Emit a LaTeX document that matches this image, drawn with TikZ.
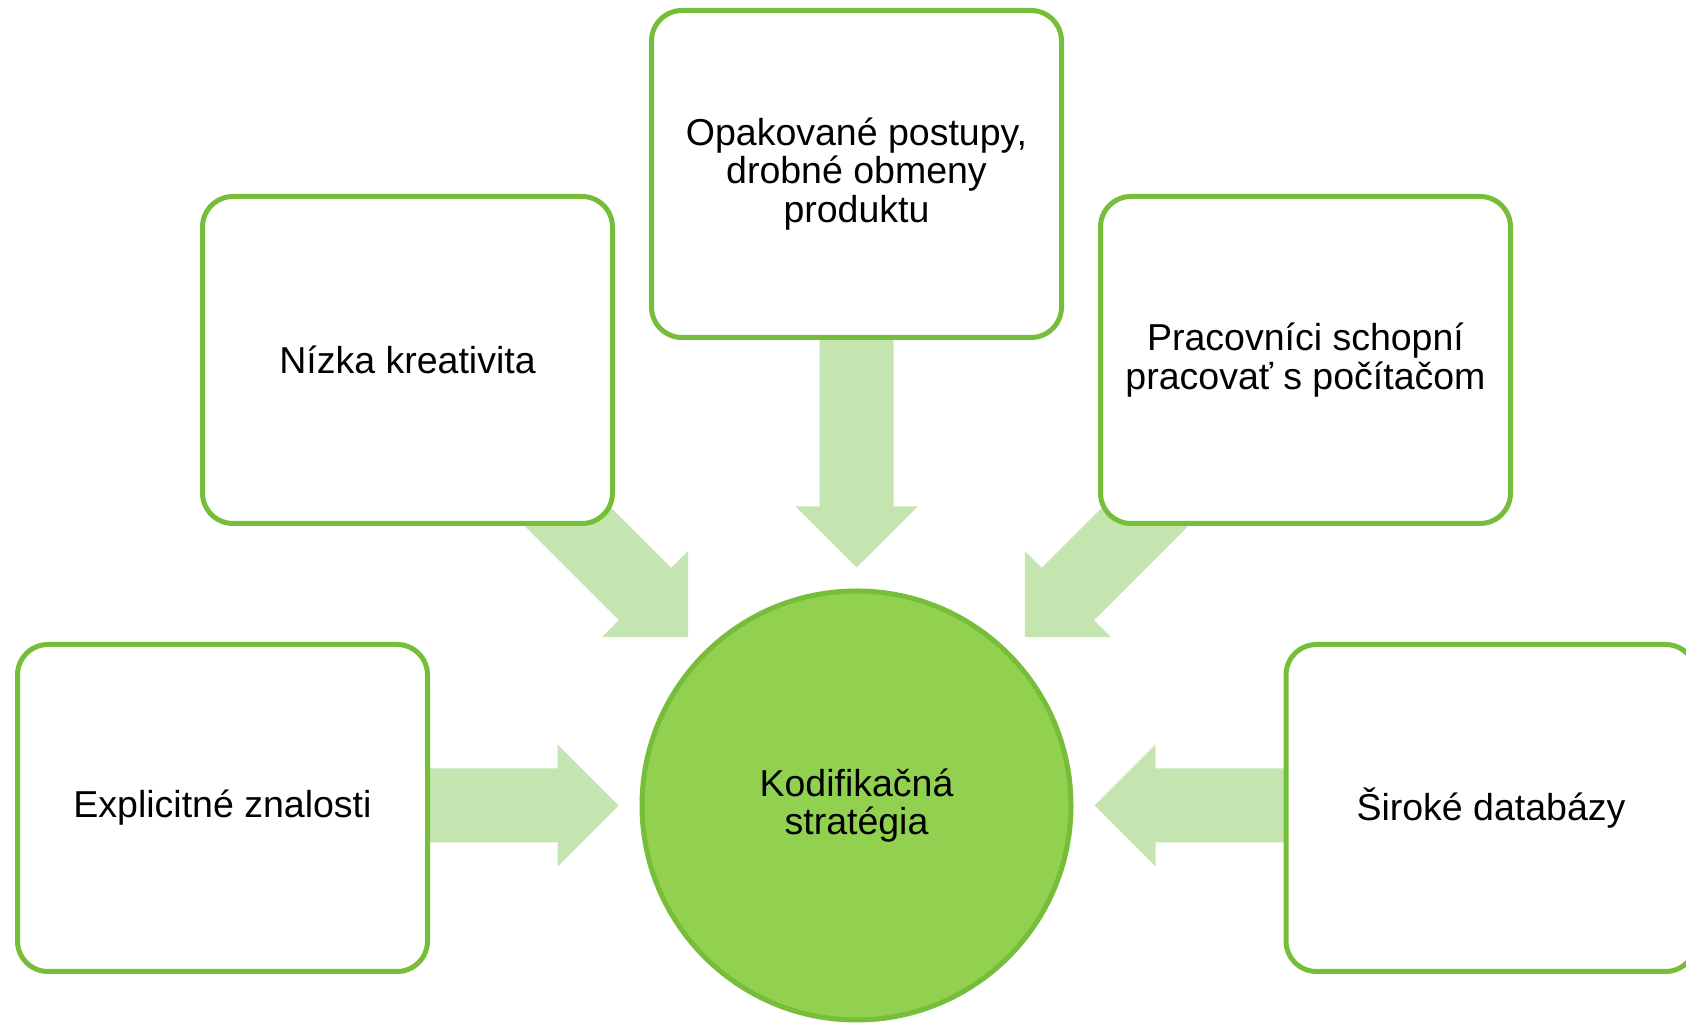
\documentclass[tikz,border=0pt]{standalone}
\usepackage{fontspec}
\setmainfont{Liberation Sans}
\usetikzlibrary{backgrounds,calc}

\definecolor{leafline}{HTML}{76BE3A}
\definecolor{leaffill}{HTML}{92D050}
\definecolor{paleleaf}{HTML}{C4E5B0}

\tikzset{
  cardbox/.style={draw=leafline, line width=5pt, fill=white,
    rounded corners=30.5pt, minimum width=410pt, minimum height=327pt,
    inner sep=0pt, align=center, font=\fontsize{37.5}{38.2}\selectfont},
  hubnode/.style={circle, draw=leafline, line width=5pt, fill=leaffill,
    minimum size=429pt, inner sep=0pt, align=center,
    font=\fontsize{37.5}{38.2}\selectfont},
  flowarrow/.style={fill=paleleaf}
}

% block arrow pointing along angle #2, tip at #1, total length #3
\newcommand\blockarrow[3]{%
  \fill[flowarrow, shift={(#1)}, rotate=#2]
    (0,0) -- (-61,61) -- (-61,37) -- (-#3,37) -- (-#3,-37)
    -- (-61,-37) -- (-61,-61) -- cycle;}

\begin{document}
\begin{tikzpicture}[x=1pt, y=1pt]
  \clip (0,0) rectangle (1686,1024);

  % centre
  \node[hubnode] (hub) at (856.5,218.5) {Kodifikačná\\stratégia};

  % surrounding cards
  \node[cardbox] (top)  at (856.5,850) {Opakované postupy,\\drobné obmeny\\produktu};
  \node[cardbox] (ul)   at (407.5,664) {Nízka kreativita};
  \node[cardbox] (ur)   at (1305.5,664) {Pracovníci schopní\\pracovať s počítačom};
  \node[cardbox] (ll)   at (222.5,216) {Explicitné znalosti};
  \node[cardbox] (lr)   at (1491,216) {Široké databázy};

  % arrow tips around the centre
  \coordinate (tipT)  at ($(hub.center)+(90:238)$);
  \coordinate (tipUL) at ($(hub.center)+(135:238)$);
  \coordinate (tipUR) at ($(hub.center)+(45:238)$);
  \coordinate (tipL)  at ($(hub.center)+(180:238)$);
  \coordinate (tipR)  at ($(hub.center)+(0:238)$);

  \begin{scope}[on background layer]
    \blockarrow{tipT}{-90}{280}
    \blockarrow{tipUL}{-45}{220}
    \blockarrow{tipUR}{-135}{220}
    \blockarrow{tipL}{0}{220}
    \blockarrow{tipR}{180}{220}
  \end{scope}
\end{tikzpicture}
\end{document}
